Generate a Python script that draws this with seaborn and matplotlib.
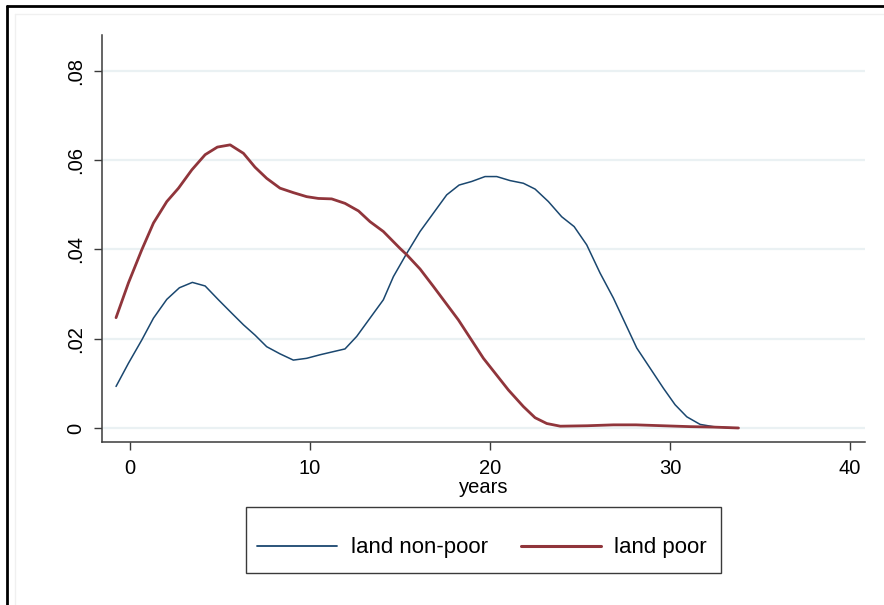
import matplotlib
matplotlib.use("Agg")
import matplotlib.pyplot as plt
import seaborn as sns
import pandas as pd
from matplotlib.patches import Rectangle
from matplotlib.lines import Line2D

# kernel density estimates
years_nonpoor = [-0.78, -0.09, 0.65, 1.30, 2.04, 2.74, 3.46, 4.17, 4.91, 5.65,
                 6.30, 6.94, 7.59, 8.33, 9.07, 9.81, 10.56, 11.30, 11.94, 12.59,
                 13.33, 14.07, 14.63, 15.37, 16.11, 16.85, 17.59, 18.28, 18.98, 19.72,
                 20.37, 21.11, 21.85, 22.50, 23.24, 23.98, 24.67, 25.37, 26.11, 26.85,
                 27.50, 28.15, 28.89, 29.63, 30.28, 30.93, 31.67, 32.40, 33.10, 33.80]
dens_nonpoor = [.0093, .0145, .0197, .0246, .0288, .0314, .0326, .0318, .0287, .0257,
                .0231, .0208, .0182, .0166, .0152, .0156, .0164, .0171, .0177, .0205,
                .0246, .0287, .0339, .0391, .0440, .0481, .0522, .0544, .0552, .0563,
                .0563, .0554, .0548, .0535, .0507, .0473, .0451, .0410, .0347, .0291,
                .0235, .0179, .0134, .0089, .0052, .0025, .0008, .0003, .0001, .0000]

years_poor = [-0.78, -0.09, 0.65, 1.30, 2.04, 2.69, 3.43, 4.17, 4.85, 5.56, 6.30,
              6.94, 7.59, 8.33, 9.07, 9.81, 10.46, 11.20, 11.94, 12.69, 13.33,
              14.07, 15.00, 15.37, 16.11, 16.85, 18.24, 19.63, 21.02, 21.85, 22.50,
              23.15, 23.90, 25.40, 26.85, 28.10, 29.60, 31.10, 32.40, 33.80]
dens_poor = [.0247, .0325, .0399, .0459, .0507, .0537, .0578, .0612, .0629, .0634, .0615,
             .0584, .0559, .0537, .0527, .0518, .0514, .0513, .0503, .0486, .0462,
             .0440, .0402, .0388, .0356, .0317, .0242, .0156, .0085, .0048, .0023,
             .0010, .0004, .0005, .0007, .0007, .0005, .0003, .0002, .0000]

x_ticks = [0, 10, 20, 30, 40]
y_ticks = [0, 0.02, 0.04, 0.06, 0.08]
y_tick_labels = ["0", ".02", ".04", ".06", ".08"]

BLUE = "#1a476f"
RED = "#90353b"
GRID = "#eaf1f3"
AXIS = "#3a3a3a"

sns.set_theme(style="white")
plt.rcParams["font.family"] = ["Liberation Sans", "DejaVu Sans"]
plt.rcParams["text.color"] = "black"
plt.rcParams["axes.labelcolor"] = "black"

df_nonpoor = pd.DataFrame({"years": years_nonpoor, "density": dens_nonpoor})
df_poor = pd.DataFrame({"years": years_poor, "density": dens_poor})

fig = plt.figure(figsize=(8.84, 6.05), dpi=100)
W, H = 884, 605
ax = fig.add_axes([102 / W, 1 - 442 / H, (865 - 102) / W, (442 - 35) / H])

sns.lineplot(data=df_nonpoor, x="years", y="density", color=BLUE,
             linewidth=1.1, ax=ax, zorder=3)
sns.lineplot(data=df_poor, x="years", y="density", color=RED,
             linewidth=2.0, ax=ax, zorder=4)

ax.set_xlim(-1.56, 40.83)
ax.set_ylim(-0.00314, 0.0880)
ax.set_xticks(x_ticks)
ax.set_xticklabels([str(t) for t in x_ticks], fontsize=14.5)
ax.set_yticks(y_ticks)
ax.set_yticklabels(y_tick_labels, fontsize=14.5, rotation=90, va="center")

for y in y_ticks:
    ax.axhline(y, color=GRID, linewidth=1.6, zorder=1)

ax.set_xlabel("years", fontsize=14.5, labelpad=0, color="black")
ax.set_ylabel("")

for side in ["top", "right"]:
    ax.spines[side].set_visible(False)
for side in ["left", "bottom"]:
    ax.spines[side].set_color(AXIS)
    ax.spines[side].set_linewidth(1.1)
ax.tick_params(axis="both", which="major", direction="out", length=6,
               width=1.0, color=AXIS, labelcolor="black", bottom=True, left=True)
ax.tick_params(axis="x", pad=6)
ax.tick_params(axis="y", pad=6)

# legend: Stata-style box below the plot region
fig.patches.append(Rectangle((245.5 / W, 1 - 573 / H), (721 - 245.5) / W, (573 - 507) / H,
                             transform=fig.transFigure, fill=False,
                             edgecolor=AXIS, linewidth=1.0))
handles = [Line2D([], [], color=BLUE, linewidth=1.3),
           Line2D([], [], color=RED, linewidth=2.2)]
leg = fig.legend(handles, ["land non-poor", "land poor"], loc="center",
                 bbox_to_anchor=(482 / W, 1 - 548 / H), ncol=2, frameon=False,
                 fontsize=16, handlelength=3.6, handletextpad=0.6, columnspacing=1.5)
for t in leg.get_texts():
    t.set_color("black")

# outer graph frame (left and top edges visible)
fig.add_artist(Line2D([7 / W, 7 / W], [0, 1 - 6 / H], transform=fig.transFigure,
                      color="black", linewidth=2.0))
fig.add_artist(Line2D([7 / W, 1], [1 - 6 / H, 1 - 6 / H], transform=fig.transFigure,
                      color="black", linewidth=2.0))
fig.add_artist(Line2D([15 / W, 15 / W], [0, 1 - 14 / H], transform=fig.transFigure,
                      color="#f0f0f0", linewidth=1.0))
fig.add_artist(Line2D([15 / W, 1], [1 - 14 / H, 1 - 14 / H], transform=fig.transFigure,
                      color="#f0f0f0", linewidth=1.0))

fig.savefig("out.png", dpi=100)
